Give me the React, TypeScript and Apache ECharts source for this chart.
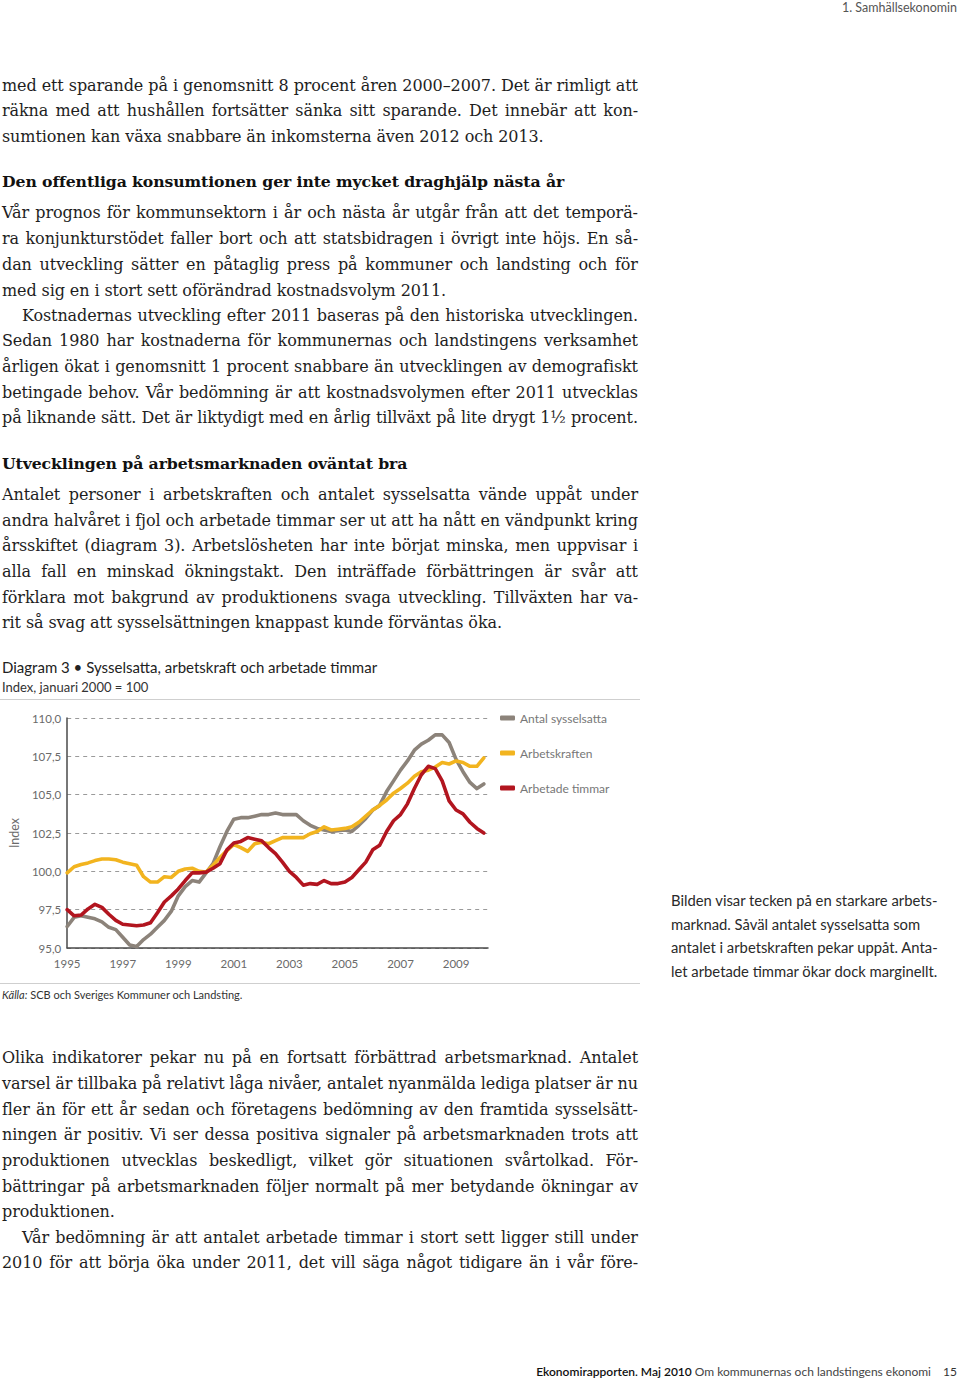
import React, { useEffect, useRef } from "react";
import * as echarts from "echarts";

// ---------- DATA ----------
const startYear = 1995;
const quarterCount = 61; // 1995 K1 .. 2010 K1
const yearTicks = [1995, 1997, 1999, 2001, 2003, 2005, 2007, 2009];
const seriesNames = ["Antal sysselsatta", "Arbetskraften", "Arbetade timmar"];

const sysselsatta = [
  96.4, 97.0, 97.1, 97.0, 96.9, 96.7, 96.35, 96.2, 95.7, 95.2, 95.1, 95.55, 95.9, 96.35, 96.8, 97.4,
  98.4, 99.0, 99.4, 99.3, 99.9, 100.5, 101.6, 102.6, 103.4, 103.5, 103.5, 103.6, 103.7, 103.7, 103.8, 103.7,
  103.7, 103.7, 103.3, 103.0, 102.8, 102.7, 102.6, 102.65, 102.7, 102.6, 103.0, 103.45, 104.0, 104.3, 105.2, 105.9,
  106.6, 107.2, 107.9, 108.3, 108.55, 108.9, 108.9, 108.4, 107.3, 106.5, 105.8, 105.4, 105.7,
];
const arbetskraften = [
  99.9, 100.3, 100.45, 100.55, 100.7, 100.8, 100.8, 100.75, 100.6, 100.5, 100.4, 99.65, 99.3, 99.3, 99.65, 99.6,
  100.0, 100.15, 100.2, 100.0, 99.95, 100.4, 100.9, 101.35, 101.75, 101.55, 101.3, 101.8, 101.9, 101.8, 102.0, 102.2,
  102.2, 102.2, 102.2, 102.45, 102.6, 102.9, 102.7, 102.75, 102.8, 102.9, 103.2, 103.6, 104.0, 104.3, 104.65, 105.1,
  105.4, 105.75, 106.2, 106.5, 106.6, 106.8, 107.1, 107.0, 107.2, 107.1, 106.85, 106.85, 107.4,
];
const arbetadeTimmar = [
  97.5, 97.1, 97.15, 97.55, 97.85, 97.65, 97.2, 96.8, 96.55, 96.5, 96.45, 96.5, 96.65, 97.3, 98.0, 98.4,
  98.85, 99.4, 99.9, 99.9, 99.95, 100.2, 100.5, 101.4, 101.85, 101.95, 102.2, 102.1, 102.0, 101.55, 101.15, 100.6,
  100.0, 99.6, 99.1, 99.2, 99.15, 99.4, 99.2, 99.2, 99.3, 99.6, 100.1, 100.6, 101.4, 101.7, 102.6, 103.3,
  103.7, 104.4, 105.4, 106.3, 106.85, 106.7, 105.9, 104.6, 104.0, 103.75, 103.2, 102.8, 102.5,
];

const colors = ["#8c837a", "#f2b41f", "#b2151f"];

// ---------- TEXT ----------
type Line = { t: string; y: number; j?: boolean; x?: number; bold?: boolean };
const bodyLines: Line[] = [
  { t: "med ett sparande på i genomsnitt 8 procent åren 2000–2007. Det är rimligt att", y: 86, j: true },
  { t: "räkna med att hushållen fortsätter sänka sitt sparande. Det innebär att kon-", y: 111, j: true },
  { t: "sumtionen kan växa snabbare än inkomsterna även 2012 och 2013.", y: 137 },
  { t: "Den offentliga konsumtionen ger inte mycket draghjälp nästa år", y: 182, bold: true },
  { t: "Vår prognos för kommunsektorn i år och nästa år utgår från att det temporä-", y: 213, j: true },
  { t: "ra konjunkturstödet faller bort och att statsbidragen i övrigt inte höjs. En så-", y: 239, j: true },
  { t: "dan utveckling sätter en påtaglig press på kommuner och landsting och för", y: 265, j: true },
  { t: "med sig en i stort sett oförändrad kostnadsvolym 2011.", y: 291 },
  { t: "Kostnadernas utveckling efter 2011 baseras på den historiska utvecklingen.", y: 316, j: true, x: 22 },
  { t: "Sedan 1980 har kostnaderna för kommunernas och landstingens verksamhet", y: 341, j: true },
  { t: "årligen ökat i genomsnitt 1 procent snabbare än utvecklingen av demografiskt", y: 367, j: true },
  { t: "betingade behov. Vår bedömning är att kostnadsvolymen efter 2011 utvecklas", y: 393, j: true },
  { t: "på liknande sätt. Det är liktydigt med en årlig tillväxt på lite drygt 1½ procent.", y: 418, j: true },
  { t: "Utvecklingen på arbetsmarknaden oväntat bra", y: 464, bold: true },
  { t: "Antalet personer i arbetskraften och antalet sysselsatta vände uppåt under", y: 495, j: true },
  { t: "andra halvåret i fjol och arbetade timmar ser ut att ha nått en vändpunkt kring", y: 521, j: true },
  { t: "årsskiftet (diagram 3). Arbetslösheten har inte börjat minska, men uppvisar i", y: 546, j: true },
  { t: "alla fall en minskad ökningstakt. Den inträffade förbättringen är svår att", y: 572, j: true },
  { t: "förklara mot bakgrund av produktionens svaga utveckling. Tillväxten har va-", y: 598, j: true },
  { t: "rit så svag att sysselsättningen knappast kunde förväntas öka.", y: 623 },
  { t: "Olika indikatorer pekar nu på en fortsatt förbättrad arbetsmarknad. Antalet", y: 1058, j: true },
  { t: "varsel är tillbaka på relativt låga nivåer, antalet nyanmälda lediga platser är nu", y: 1084, j: true },
  { t: "fler än för ett år sedan och företagens bedömning av den framtida sysselsätt-", y: 1110, j: true },
  { t: "ningen är positiv. Vi ser dessa positiva signaler på arbetsmarknaden trots att", y: 1135, j: true },
  { t: "produktionen utvecklas beskedligt, vilket gör situationen svårtolkad. För-", y: 1161, j: true },
  { t: "bättringar på arbetsmarknaden följer normalt på mer betydande ökningar av", y: 1187, j: true },
  { t: "produktionen.", y: 1212 },
  { t: "Vår bedömning är att antalet arbetade timmar i stort sett ligger still under", y: 1238, j: true, x: 22 },
  { t: "2010 för att börja öka under 2011, det vill säga något tidigare än i vår före-", y: 1263, j: true },
];

const sideLines = [
  "Bilden visar tecken på en starkare arbets-",
  "marknad. Såväl antalet sysselsatta som",
  "antalet i arbetskraften pekar uppåt. Anta-",
  "let arbetade timmar ökar dock marginellt.",
];

const SERIF = "'DejaVu Serif', 'Liberation Serif', serif";
const SANS = "Lato, 'Open Sans', sans-serif";

function TextLine({ line }: { line: Line }) {
  const left = line.x ?? 2;
  const lh = 26;
  const base: React.CSSProperties = {
    position: "absolute",
    left,
    top: line.y - lh / 2,
    height: lh,
    lineHeight: lh + "px",
    fontFamily: SERIF,
    fontSize: line.bold ? 15.7 : 16,
    letterSpacing: line.bold ? -0.1 : -0.1,
    color: line.bold ? "#111" : "#1e1e1e",
    fontWeight: line.bold ? 700 : 400,
    whiteSpace: "nowrap",
  };
  if (line.j) {
    const words = line.t.split(" ");
    return (
      <div style={{ ...base, width: 638 - left, display: "flex", justifyContent: "space-between" }}>
        {words.map((w, i) => (
          <span key={i}>{w}</span>
        ))}
      </div>
    );
  }
  return <div style={base}>{line.t}</div>;
}

function Chart() {
  const ref = useRef<HTMLDivElement>(null);
  useEffect(() => {
    if (!ref.current) return;
    const chart = echarts.init(ref.current, undefined, { renderer: "svg" });
    const xs = Array.from({ length: quarterCount }, (_, i) => startYear + i * 0.25);
    const mk = (vals: number[]) => vals.map((v, i) => [xs[i], v]);
    const data = [sysselsatta, arbetskraften, arbetadeTimmar];
    chart.setOption({
      animation: false,
      grid: { left: 62, right: 152, top: 18, bottom: 34, containLabel: false },
      legend: {
        orient: "vertical",
        left: 500,
        top: 11,
        padding: 0,
        itemGap: 21,
        itemWidth: 15,
        itemHeight: 5,
        icon: "roundRect",
        selectedMode: false,
        data: seriesNames,
        textStyle: { color: "#777", fontFamily: SANS, fontSize: 12, lineHeight: 14, height: 14 },
      },
      xAxis: {
        type: "value",
        min: 1995,
        max: 2010.15,
        axisLine: { show: true, onZero: false, lineStyle: { color: "#4a4a4a", width: 1.5 } },
        axisTick: { show: false },
        splitLine: { show: false },
        axisLabel: {
          customValues: yearTicks,
          formatter: (v: number) => String(Math.round(v)),
          color: "#6a6a6a",
          fontFamily: SANS,
          fontSize: 11.5,
          margin: 9,
        },
      },
      yAxis: {
        type: "value",
        min: 95,
        max: 110,
        interval: 2.5,
        name: "Index",
        nameLocation: "middle",
        nameGap: 46,
        nameTextStyle: { color: "#6a6a6a", fontFamily: SANS, fontSize: 12.5 },
        axisLine: { show: true, lineStyle: { color: "#4a4a4a", width: 1.5 } },
        axisTick: { show: false },
        splitLine: { show: true, lineStyle: { color: "#9a9a9a", width: 1, type: [4, 4] } },
        axisLabel: {
          formatter: (v: number) => v.toFixed(1).replace(".", ","),
          color: "#6a6a6a",
          fontFamily: SANS,
          fontSize: 11.5,
          margin: 6,
        },
      },
      series: seriesNames.map((name, i) => ({
        name,
        type: "line",
        data: mk(data[i]),
        showSymbol: false,
        symbol: "none",
        color: colors[i],
        lineStyle: { width: 3.6, color: colors[i], cap: "round", join: "round" },
        itemStyle: { color: colors[i] },
        z: 2 + i,
      })),
    });
    return () => chart.dispose();
  }, []);
  return <div ref={ref} style={{ position: "absolute", left: 0, top: 700, width: 640, height: 282 }} />;
}

export default function App() {
  return (
    <div
      style={{
        position: "fixed",
        left: 0,
        top: 0,
        width: 960,
        height: 1380,
        background: "#fff",
        overflow: "hidden",
      }}
    >
      <div
        style={{
          position: "absolute",
          right: 3,
          top: 0,
          fontFamily: SANS,
          fontSize: 12.5,
          color: "#555",
          lineHeight: "16px",
        }}
      >
        1. Samhällsekonomin
      </div>

      {bodyLines.map((l, i) => (
        <TextLine key={i} line={l} />
      ))}

      <div style={{ position: "absolute", left: 2, top: 657, fontFamily: SANS, fontSize: 15, color: "#222", lineHeight: "20px", whiteSpace: "nowrap" }}>
        Diagram 3 • Sysselsatta, arbetskraft och arbetade timmar
      </div>
      <div style={{ position: "absolute", left: 2, top: 678, fontFamily: SANS, fontSize: 13, color: "#333", lineHeight: "18px", whiteSpace: "nowrap" }}>
        Index, januari 2000 = 100
      </div>
      <div style={{ position: "absolute", left: 0, top: 699, width: 640, height: 1, background: "#cfcfcf" }} />

      <Chart />

      <div style={{ position: "absolute", left: 0, top: 983, width: 640, height: 1, background: "#cfcfcf" }} />
      <div style={{ position: "absolute", left: 2, top: 988, fontFamily: SANS, fontSize: 11, color: "#333", lineHeight: "14px", whiteSpace: "nowrap" }}>
        <i>Källa:</i> SCB och Sveriges Kommuner och Landsting.
      </div>

      {sideLines.map((s, i) => (
        <div
          key={i}
          style={{
            position: "absolute",
            left: 671,
            top: 890 + i * 23.7,
            fontFamily: SANS,
            fontSize: 14.8,
            color: "#2a2a2a",
            lineHeight: "20px",
            whiteSpace: "nowrap",
          }}
        >
          {s}
        </div>
      ))}

      <div
        style={{
          position: "absolute",
          right: 3,
          top: 1364,
          fontFamily: SANS,
          fontSize: 12,
          color: "#333",
          lineHeight: "16px",
          whiteSpace: "nowrap",
        }}
      >
        <span style={{ color: "#111", fontWeight: 600 }}>Ekonomirapporten. Maj 2010</span>{" "}
        <span style={{ color: "#444" }}>Om kommunernas och landstingens ekonomi</span>
        <span style={{ display: "inline-block", width: 26, textAlign: "right" }}>15</span>
      </div>
    </div>
  );
}
